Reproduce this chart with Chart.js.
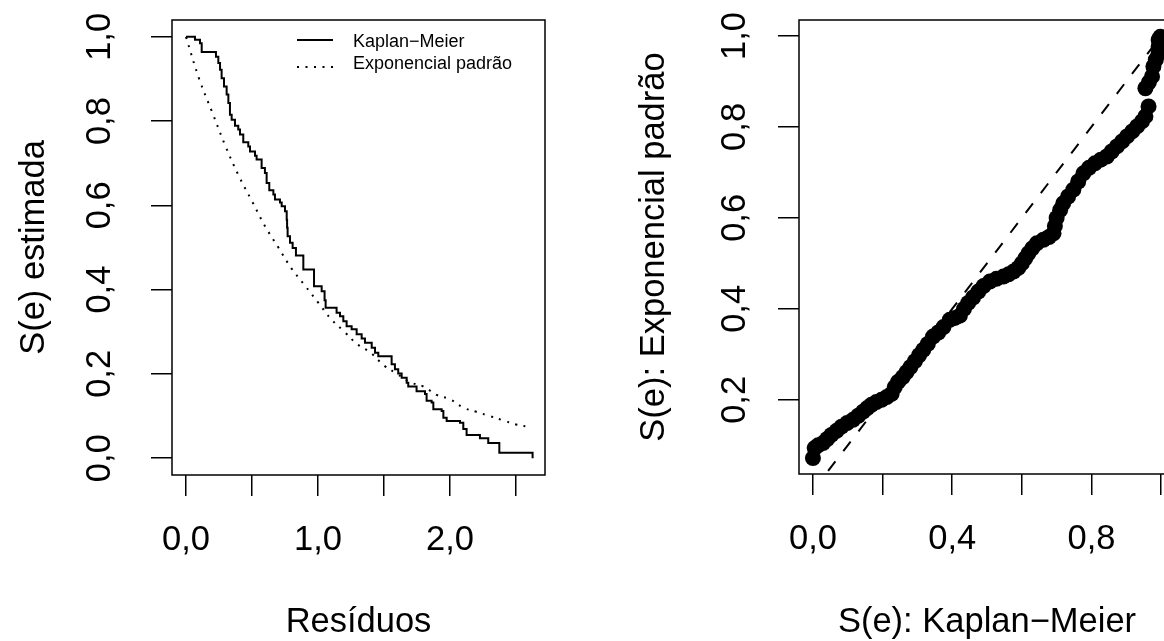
<!DOCTYPE html>
<html>
<head>
<meta charset="utf-8">
<script src="https://cdn.jsdelivr.net/npm/chart.js@4.4.1/dist/chart.umd.min.js"></script>
<style>
  html, body { margin: 0; padding: 0; background: #fff; overflow: hidden; }
  #wrap { position: relative; width: 1164px; height: 641px; overflow: hidden; }
  #left { position: absolute; left: 0; top: 0; }
  #right { position: absolute; left: 582px; top: 0; }
</style>
</head>
<body>
<div id="wrap">
  <canvas id="left" width="582" height="641"></canvas>
  <canvas id="right" width="640" height="641"></canvas>
</div>
<script>
// Kaplan-Meier estimate of the residuals (time, survival after the step)
const kmTimes = [0, 0.068, 0.106, 0.119, 0.227, 0.245, 0.258, 0.270, 0.288, 0.308, 0.321, 0.333, 0.346,
  0.371, 0.396, 0.409, 0.434, 0.472, 0.485, 0.523, 0.535, 0.573, 0.598, 0.611, 0.631, 0.662, 0.674,
  0.712, 0.725, 0.750, 0.763, 0.766, 0.770, 0.788, 0.808, 0.833, 0.889, 0.970, 1.028, 1.050, 1.058,
  1.141, 1.167, 1.192, 1.217, 1.255, 1.293, 1.331, 1.356, 1.407, 1.432, 1.457, 1.558, 1.583, 1.608,
  1.634, 1.672, 1.684, 1.747, 1.811, 1.823, 1.861, 1.874, 1.937, 1.950, 1.975, 2.076, 2.101, 2.126,
  2.227, 2.290, 2.374, 2.626]
const kmSurv = [1.000, 0.993, 0.985, 0.964, 0.953, 0.938, 0.922, 0.902, 0.882, 0.863, 0.843, 0.815, 0.803,
  0.789, 0.780, 0.768, 0.750, 0.740, 0.728, 0.718, 0.709, 0.689, 0.677, 0.653, 0.636, 0.626, 0.614,
  0.607, 0.598, 0.586, 0.566, 0.547, 0.527, 0.511, 0.499, 0.481, 0.448, 0.408, 0.396, 0.375, 0.357,
  0.345, 0.337, 0.325, 0.313, 0.306, 0.294, 0.284, 0.274, 0.262, 0.250, 0.242, 0.223, 0.211, 0.201,
  0.191, 0.179, 0.170, 0.159, 0.152, 0.136, 0.132, 0.116, 0.112, 0.096, 0.088, 0.084, 0.069, 0.055,
  0.047, 0.036, 0.013, 0.000]

// standard exponential curve
const expTimes = [0, 0.1, 0.2, 0.3, 0.4, 0.5, 0.6, 0.7, 0.8, 0.9, 1.0, 1.1, 1.2, 1.3, 1.4, 1.5, 1.6,
  1.7, 1.8, 1.9, 2.0, 2.1, 2.2, 2.3, 2.4, 2.5, 2.6]
const expSurv = [1.00, 0.90, 0.82, 0.74, 0.67, 0.61, 0.55, 0.50, 0.45, 0.41, 0.37, 0.33, 0.30, 0.27,
  0.25, 0.22, 0.20, 0.18, 0.17, 0.15, 0.14, 0.12, 0.11, 0.10, 0.09, 0.08, 0.074]

// right panel: S(e) Kaplan-Meier vs S(e) exponential
const kmPoints = [0.000, 0.005, 0.015, 0.029, 0.041, 0.053, 0.068, 0.082, 0.098, 0.115, 0.130, 0.144,
  0.156, 0.168, 0.182, 0.197, 0.212, 0.226, 0.235, 0.245, 0.258, 0.269, 0.280, 0.293, 0.305, 0.317,
  0.330, 0.345, 0.360, 0.375, 0.393, 0.408, 0.422, 0.434, 0.446, 0.460, 0.475, 0.490, 0.508, 0.527,
  0.547, 0.562, 0.576, 0.590, 0.600, 0.610, 0.619, 0.630, 0.643, 0.662, 0.678, 0.691, 0.695, 0.700,
  0.710, 0.719, 0.733, 0.748, 0.762, 0.777, 0.793, 0.810, 0.827, 0.844, 0.858, 0.873, 0.888, 0.902,
  0.917, 0.931, 0.945, 0.955, 0.964, 0.955, 0.965, 0.974, 0.978, 0.985, 0.993, 0.993, 0.993, 0.998]
const expPoints = [0.072, 0.094, 0.100, 0.105, 0.114, 0.123, 0.132, 0.141, 0.149, 0.156, 0.165, 0.174,
  0.182, 0.189, 0.195, 0.200, 0.206, 0.213, 0.228, 0.240, 0.250, 0.261, 0.272, 0.285, 0.298, 0.310,
  0.323, 0.339, 0.348, 0.360, 0.376, 0.380, 0.385, 0.400, 0.413, 0.425, 0.438, 0.450, 0.460, 0.466,
  0.471, 0.476, 0.482, 0.490, 0.500, 0.511, 0.522, 0.533, 0.544, 0.552, 0.558, 0.566, 0.582, 0.600,
  0.617, 0.632, 0.647, 0.662, 0.680, 0.698, 0.710, 0.720, 0.728, 0.735, 0.746, 0.757, 0.768, 0.779,
  0.790, 0.801, 0.812, 0.823, 0.845, 0.885, 0.898, 0.911, 0.933, 0.948, 0.962, 0.976, 0.991, 0.998]
const diagonal = [0, 1.1]

// ticks
const leftXTicks = [0, 0.5, 1, 1.5, 2, 2.5]
const leftXLabels = ['0,0', '', '1,0', '', '2,0', '']
const leftYTicks = [0, 0.2, 0.4, 0.6, 0.8, 1]
const leftYLabels = ['0,0', '0,2', '0,4', '0,6', '0,8', '1,0']
const rightXTicks = [0, 0.2, 0.4, 0.6, 0.8, 1]
const rightXLabels = ['0,0', '', '0,4', '', '0,8', '']
const rightYTicks = [0.2, 0.4, 0.6, 0.8, 1]
const rightYLabels = ['0,2', '0,4', '0,6', '0,8', '1,0']

const FONT = '"Liberation Sans", Arial, Helvetica, sans-serif'
const big = { family: FONT, size: 34.5 }

Chart.defaults.font.family = FONT
Chart.defaults.color = '#000'

const toXY = (xs, ys) => xs.map((x, i) => ({ x: x, y: ys[i] }))

function axis(min, max, ticks, labels, size, title, horizontal, pad, titlePad) {
  return {
    type: 'linear',
    min: min,
    max: max,
    afterBuildTicks: s => { s.ticks = ticks.map(v => ({ value: v })) },
    afterFit: s => {
      // fixed margins, no extra room for overhanging labels
      if (horizontal) s.height = size; else s.width = size
      s.paddingTop = 0
      s.paddingBottom = 0
      s.paddingLeft = 0
      s.paddingRight = 0
    },
    border: { display: false },
    grid: { drawOnChartArea: false, drawTicks: true, tickLength: 21, color: '#000', lineWidth: 1.5 },
    ticks: {
      font: big,
      color: '#000',
      padding: pad,
      autoSkip: false,
      minRotation: horizontal ? 0 : 90,
      maxRotation: horizontal ? 0 : 90,
      crossAlign: 'center',
      callback: (v, i) => labels[i]
    },
    title: { display: true, text: title, font: big, color: '#000', padding: titlePad }
  }
}

const boxPlugin = {
  id: 'box',
  afterDraw(chart) {
    const { ctx, chartArea: a } = chart
    ctx.save()
    ctx.strokeStyle = '#000'
    ctx.lineWidth = 1.5
    ctx.strokeRect(a.left, a.top, a.right - a.left, a.bottom - a.top)
    ctx.restore()
  }
}

// legend drawn inside the plot, like R's legend(bty = "n")
const legendInside = {
  id: 'legendInside',
  afterDraw(chart, args, o) {
    if (!o.show) return
    const { ctx, chartArea: a } = chart
    chart.data.datasets.forEach((ds, i) => {
      const y = a.top + o.top + i * o.row
      const ly = y + o.lineShift[i]
      ctx.save()
      ctx.strokeStyle = ds.borderColor
      ctx.lineWidth = ds.borderWidth
      ctx.setLineDash(ds.borderDash || [])
      ctx.beginPath()
      ctx.moveTo(a.left + o.lineFrom, ly)
      ctx.lineTo(a.left + o.lineTo, ly)
      ctx.stroke()
      ctx.setLineDash([])
      ctx.fillStyle = '#000'
      ctx.font = '18px ' + FONT
      ctx.textBaseline = 'middle'
      ctx.fillText(ds.label, a.left + o.textX, y)
      ctx.restore()
    })
  }
}

new Chart(document.getElementById('left'), {
  type: 'scatter',
  data: {
    datasets: [
      {
        label: 'Kaplan\u2212Meier',
        data: toXY(kmTimes, kmSurv),
        showLine: true,
        stepped: 'before',
        borderColor: '#000',
        borderWidth: 2,
        pointRadius: 0
      },
      {
        label: 'Exponencial padrão',
        data: toXY(expTimes, expSurv),
        showLine: true,
        tension: 0.4,
        borderColor: '#000',
        borderWidth: 2,
        borderDash: [2, 6.5],
        pointRadius: 0
      }
    ]
  },
  options: {
    responsive: false,
    animation: false,
    events: [],
    layout: { padding: { left: 0, top: 20, right: 37, bottom: 0 } },
    scales: {
      x: axis(-0.106, 2.72, leftXTicks, leftXLabels, 166, 'Resíduos', true, 44, { top: 0, bottom: -2 }),
      y: axis(-0.04, 1.04, leftYTicks, leftYLabels, 172, 'S(e) estimada', false, 27, { top: 14, bottom: 0 })
    },
    plugins: {
      legend: { display: false },
      tooltip: { enabled: false },
      legendInside: { show: true, top: 22, row: 22, lineFrom: 125, lineTo: 161, textX: 181, lineShift: [-2, 3] }
    }
  },
  plugins: [boxPlugin, legendInside]
})

new Chart(document.getElementById('right'), {
  type: 'scatter',
  data: {
    datasets: [
      {
        label: 'pontos',
        data: toXY(kmPoints, expPoints),
        pointRadius: 8,
        pointBackgroundColor: '#000',
        pointBorderColor: '#000',
        pointBorderWidth: 0,
        showLine: false
      },
      {
        label: 'identidade',
        data: toXY(diagonal, diagonal),
        showLine: true,
        borderColor: '#000',
        borderWidth: 2,
        borderDash: [12, 13],
        pointRadius: 0
      }
    ]
  },
  options: {
    responsive: false,
    animation: false,
    events: [],
    layout: { padding: { left: 0, top: 20, right: 47, bottom: 0 } },
    scales: {
      x: axis(-0.04, 1.04, rightXTicks, rightXLabels, 167, 'S(e): Kaplan\u2212Meier', true, 44, { top: 0, bottom: -2 }),
      y: axis(0.037, 1.035, rightYTicks, rightYLabels, 217, 'S(e): Exponencial padrão', false, 18.5, { top: 52, bottom: 0 })
    },
    plugins: {
      legend: { display: false },
      tooltip: { enabled: false },
      legendInside: { show: false }
    }
  },
  plugins: [boxPlugin, legendInside]
})
</script>
</body>
</html>
